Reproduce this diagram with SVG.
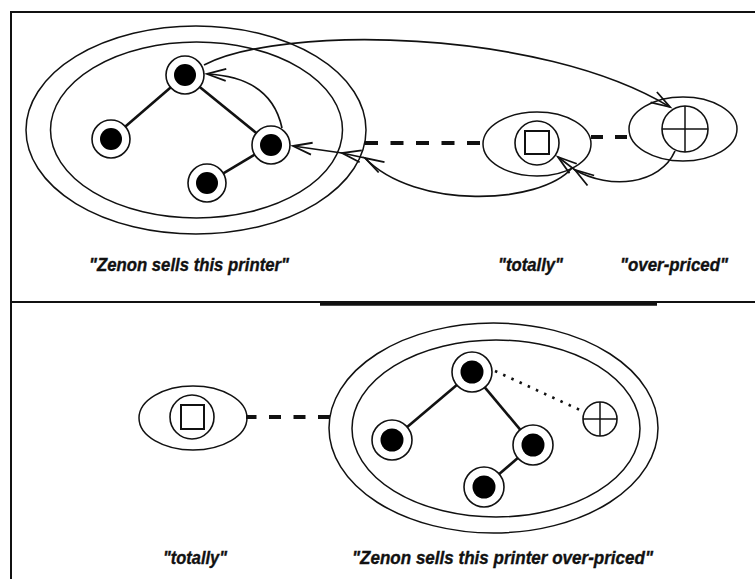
<svg xmlns="http://www.w3.org/2000/svg" width="755" height="579" viewBox="0 0 755 579">
<style>
 .frame{stroke:#111;stroke-width:2;fill:none}
 .ell{fill:none;stroke:#111;stroke-width:1.5}
 .ring{fill:#fff;stroke:#111;stroke-width:1.6}
 .dot{fill:#000}
 .sq{fill:none;stroke:#111;stroke-width:2}
 .edge{stroke:#111;stroke-width:2.6;fill:none}
 .dash{stroke:#111;stroke-width:4;fill:none}
 .dots{stroke:#111;stroke-width:2.6;fill:none;stroke-dasharray:2.5 6.5}
 .arc{fill:none;stroke:#111;stroke-width:1.7;marker-end:url(#open)}
 .mid{marker-mid:url(#open)}
 .lbl{font-family:"Liberation Sans",Arial,sans-serif;font-weight:bold;font-style:italic;font-size:18px;fill:#111;stroke:#111;stroke-width:0.35}
</style>
<defs>
 <marker id="open" markerUnits="userSpaceOnUse" markerWidth="30" markerHeight="20" viewBox="-20 -10 30 20" refX="0" refY="0" orient="auto" overflow="visible">
  <path d="M-19,-6 L0,0 L-19,6" fill="none" stroke="#111" stroke-width="1.8"/>
 </marker>
</defs>
<rect width="755" height="579" fill="#fff"/>
<g id="frame">
 <line class="frame" x1="11" y1="12" x2="755" y2="12"/>
 <line class="frame" x1="11" y1="11" x2="11" y2="579"/>
 <line class="frame" x1="11" y1="302" x2="755" y2="302"/>
 <line stroke="#111" stroke-width="4.5" x1="320" y1="303.5" x2="657" y2="303.5"/>
</g>

<!-- top panel -->
<g id="zenon-top">
 <ellipse class="ell" cx="196" cy="130" rx="170" ry="104"/>
 <ellipse class="ell" cx="196.5" cy="130" rx="146" ry="88"/>
 <g id="zt-n1"><circle class="ring" cx="185" cy="75" r="19"/><circle class="dot" cx="185" cy="75" r="11"/></g>
 <g id="zt-n2"><circle class="ring" cx="111" cy="139" r="19"/><circle class="dot" cx="111" cy="139" r="11"/></g>
 <g id="zt-n3"><circle class="ring" cx="271" cy="145" r="19"/><circle class="dot" cx="271" cy="145" r="11"/></g>
 <g id="zt-n4"><circle class="ring" cx="207" cy="183" r="19"/><circle class="dot" cx="207" cy="183" r="11"/></g>
</g>
<g id="totally-top">
 <ellipse class="ell" cx="537" cy="144" rx="54" ry="32"/>
 <circle class="ring" cx="537" cy="143" r="22"/>
 <rect class="sq" x="525" y="131" width="24" height="23"/>
</g>
<g id="overpriced-top">
 <ellipse class="ell" cx="683" cy="129" rx="54" ry="32"/>
 <circle class="ring" cx="685" cy="129" r="23"/>
 <line class="ell" x1="685" y1="106" x2="685" y2="152"/>
 <line class="ell" x1="662" y1="129" x2="708" y2="129"/>
</g>

<!-- bottom panel -->
<g id="totally-bottom">
 <ellipse class="ell" cx="193" cy="418" rx="54" ry="32"/>
 <circle class="ring" cx="192" cy="417" r="22"/>
 <rect class="sq" x="181" y="405" width="23" height="24"/>
</g>
<g id="zenon-bottom">
 <ellipse class="ell" cx="493.5" cy="428" rx="164.5" ry="105"/>
 <ellipse class="ell" cx="496" cy="428.5" rx="144" ry="88.5"/>
 <g id="zb-n1"><circle class="ring" cx="472" cy="372" r="20"/><circle class="dot" cx="472" cy="372" r="11.5"/></g>
 <g id="zb-n2"><circle class="ring" cx="392" cy="440" r="20"/><circle class="dot" cx="392" cy="440" r="11.5"/></g>
 <g id="zb-n3"><circle class="ring" cx="533" cy="445" r="20"/><circle class="dot" cx="533" cy="445" r="11.5"/></g>
 <g id="zb-n4"><circle class="ring" cx="484" cy="487" r="20"/><circle class="dot" cx="484" cy="487" r="11.5"/></g>
 <g id="zb-op">
  <circle class="ring" cx="600" cy="419" r="17"/>
  <line class="ell" x1="600" y1="402" x2="600" y2="436"/>
  <line class="ell" x1="583" y1="419" x2="617" y2="419"/>
 </g>
</g>

<g id="connectors">
 <line class="edge" x1="170.6" y1="87.4" x2="125.4" y2="126.6"/>
 <line class="edge" x1="199.7" y1="87" x2="256.3" y2="133"/>
 <line class="edge" x1="254.7" y1="154.7" x2="223.3" y2="173.3"/>
 <line class="dash" x1="365" y1="143" x2="483" y2="143" stroke-dasharray="13 12.5"/>
 <line class="dash" x1="591" y1="137" x2="629" y2="137" stroke-dasharray="12 12"/>
 <path class="arc" d="M204,65 C280,25 540,28 670,107"/>
 <path class="arc" d="M282,128 C275,95 250,76 207,74"/>
 <path class="arc mid" d="M572,168 C540,205 415,210 365,158 L342,153 L293,146"/>
 <path class="arc mid" d="M675,151 C660,185 610,190 575,170 L558,157"/>

 <line class="edge" x1="456.8" y1="385" x2="407.2" y2="427"/>
 <line class="edge" x1="484.8" y1="387.3" x2="520.2" y2="429.7"/>
 <line class="edge" x1="517.8" y1="458" x2="499.2" y2="474"/>
 <line class="dash" x1="330" y1="417" x2="246" y2="417" stroke-dasharray="12 12.5"/>
 <line class="dots" x1="495" y1="371" x2="580" y2="410"/>
</g>

<g id="labels">
 <text class="lbl" x="89" y="271" textLength="200" lengthAdjust="spacingAndGlyphs">"Zenon sells this printer"</text>
 <text class="lbl" x="498" y="271" textLength="65" lengthAdjust="spacingAndGlyphs">"totally"</text>
 <text class="lbl" x="620" y="271" textLength="108" lengthAdjust="spacingAndGlyphs">"over-priced"</text>
 <text class="lbl" x="163" y="564" textLength="64" lengthAdjust="spacingAndGlyphs">"totally"</text>
 <text class="lbl" x="352" y="564" textLength="301" lengthAdjust="spacingAndGlyphs">"Zenon sells this printer over-priced"</text>
</g>
</svg>
